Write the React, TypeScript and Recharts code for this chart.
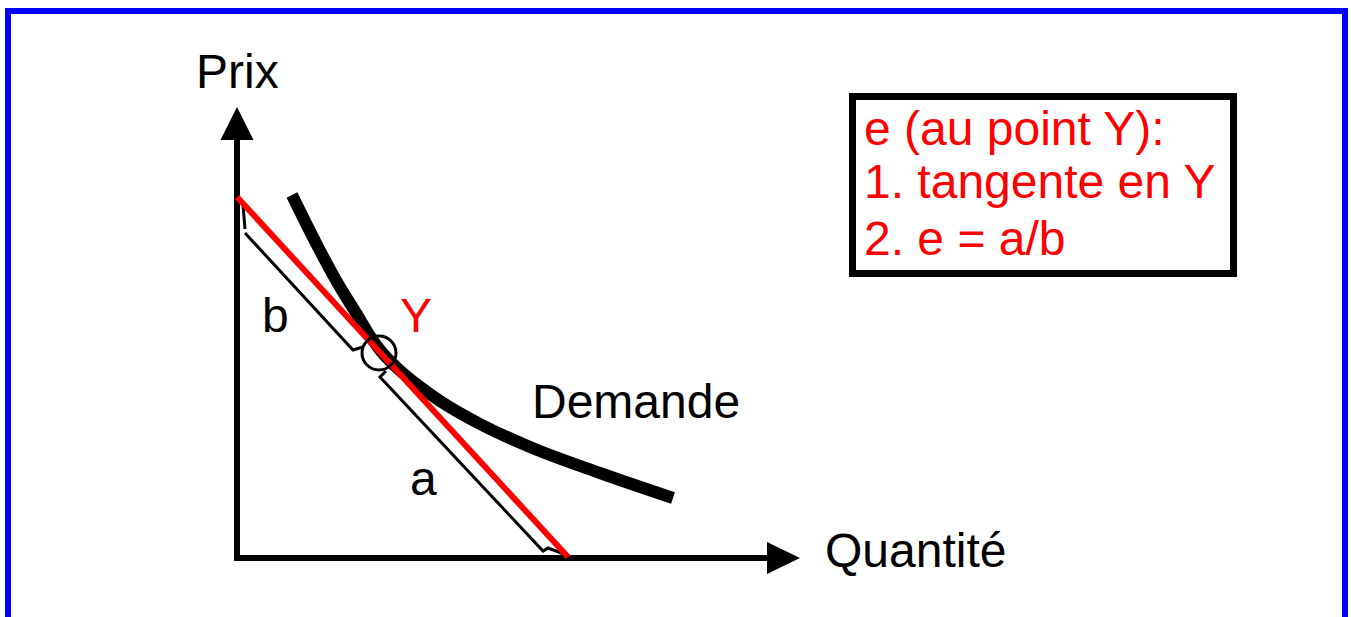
import React from 'react';
import { ComposedChart, Line, Scatter, XAxis, YAxis, ReferenceDot, ReferenceArea } from 'recharts';

// courbe de demande (q = quantité, p = prix)
const demande = [
  { q: 11, p: 72.6 },
  { q: 16, p: 62.6 },
  { q: 20, p: 55.2 },
  { q: 23.8, p: 49 },
  { q: 26.6, p: 44.4 },
  { q: 28.6, p: 41.6 },
  { q: 31.6, p: 38.4 },
  { q: 35.6, p: 35 },
  { q: 40.6, p: 31.4 },
  { q: 48.6, p: 26.8 },
  { q: 58.6, p: 22.2 },
  { q: 72.6, p: 17 },
  { q: 87.2, p: 12 },
];

// tangente en Y
const tangente = [
  { q: 0, p: 72.2 },
  { q: 66.2, p: 0.2 },
];

// axes
const axePrix = [
  { q: 0, p: -0.6 },
  { q: 0, p: 83.6 },
];
const axeQuantite = [
  { q: -0.6, p: 0 },
  { q: 106, p: 0 },
];
const fleches = [
  { q: 0, p: 90.2, dir: 'up' },
  { q: 112.6, p: 0, dir: 'right' },
];

// segments b et a
const trait_b1 = [
  { q: 1.2, p: 70.6 },
  { q: 1.6, p: 65.8 },
];
const trait_b2 = [
  { q: 1.6, p: 65 },
  { q: 23.2, p: 41.6 },
  { q: 25.2, p: 42.2 },
];
const trait_a = [
  { q: 29.8, p: 37.4 },
  { q: 28.6, p: 36.2 },
  { q: 61.2, p: 1.4 },
  { q: 62.2, p: 2 },
  { q: 65.4, p: 0.8 },
];

const pointY = { q: 28.4, p: 41 };
const cadre = { q1: 123.1, q2: 199.3, p1: 56.9, p2: 92.3 };

const textes = [
  { q: -8.2, p: 94, text: 'Prix', color: '#000' },
  { q: 5, p: 45.2, text: 'b', color: '#000' },
  { q: 32.6, p: 45.2, text: 'Y', color: '#f00' },
  { q: 34.6, p: 12.6, text: 'a', color: '#000' },
  { q: 59, p: 28, text: 'Demande', color: '#000' },
  { q: 117.6, p: -1.8, text: 'Quantité', color: '#000' },
  { q: 125.4, p: 82.6, text: 'e (au point Y):', color: '#f00' },
  { q: 125.4, p: 72, text: '1. tangente en Y', color: '#f00' },
  { q: 125.4, p: 60.6, text: '2. e = a/b', color: '#f00' },
];

const FONT = '"Liberation Sans", Arial, sans-serif';

const Fleche = (props: any) => {
  const { cx, cy, payload } = props;
  const pts =
    payload.dir === 'up'
      ? `${cx},${cy} ${cx - 16.5},${cy + 33} ${cx + 16.5},${cy + 33}`
      : `${cx},${cy} ${cx - 33},${cy - 16} ${cx - 33},${cy + 16}`;
  return <polygon points={pts} fill="#000" />;
};

const Texte = (props: any) => {
  const { cx, cy, payload } = props;
  return (
    <text x={cx} y={cy} fill={payload.color} fontSize={48} fontFamily={FONT}>
      {payload.text}
    </text>
  );
};

export default function App() {
  return (
    <div style={{ position: 'absolute', left: 0, top: 0, width: 1351, height: 617, overflow: 'hidden', background: '#fff' }}>
      <div
        style={{
          position: 'absolute',
          left: 5,
          top: 8,
          width: 1343,
          height: 700,
          border: '6px solid #0000ff',
          boxSizing: 'border-box',
        }}
      />
      <div style={{ position: 'absolute', left: 0, top: 0 }}>
        <ComposedChart width={1351} height={617} margin={{ top: 0, right: 0, bottom: 0, left: 0 }}>
          <XAxis type="number" dataKey="q" domain={[-47.4, 222.8]} hide />
          <YAxis type="number" dataKey="p" domain={[-11.8, 111.6]} hide />
          <ReferenceArea
            x1={cadre.q1}
            x2={cadre.q2}
            y1={cadre.p1}
            y2={cadre.p2}
            fill="none"
            stroke="#000"
            strokeWidth={7}
          />
          <Line data={axePrix} dataKey="p" type="linear" stroke="#000" strokeWidth={6} dot={false} isAnimationActive={false} />
          <Line data={axeQuantite} dataKey="p" type="linear" stroke="#000" strokeWidth={6} dot={false} isAnimationActive={false} />
          <Line data={trait_b1} dataKey="p" type="linear" stroke="#000" strokeWidth={3} dot={false} isAnimationActive={false} />
          <Line data={trait_b2} dataKey="p" type="linear" stroke="#000" strokeWidth={3} dot={false} isAnimationActive={false} />
          <Line data={trait_a} dataKey="p" type="linear" stroke="#000" strokeWidth={3} dot={false} isAnimationActive={false} />
          <Line data={demande} dataKey="p" type="monotone" stroke="#000" strokeWidth={12} dot={false} isAnimationActive={false} />
          <Line data={tangente} dataKey="p" type="linear" stroke="#ff0000" strokeWidth={6} dot={false} isAnimationActive={false} />
          <ReferenceDot x={pointY.q} y={pointY.p} r={17} fill="none" stroke="#000" strokeWidth={3} />
          <Scatter data={fleches} shape={<Fleche />} isAnimationActive={false} />
          <Scatter data={textes} shape={<Texte />} isAnimationActive={false} />
        </ComposedChart>
      </div>
    </div>
  );
}
